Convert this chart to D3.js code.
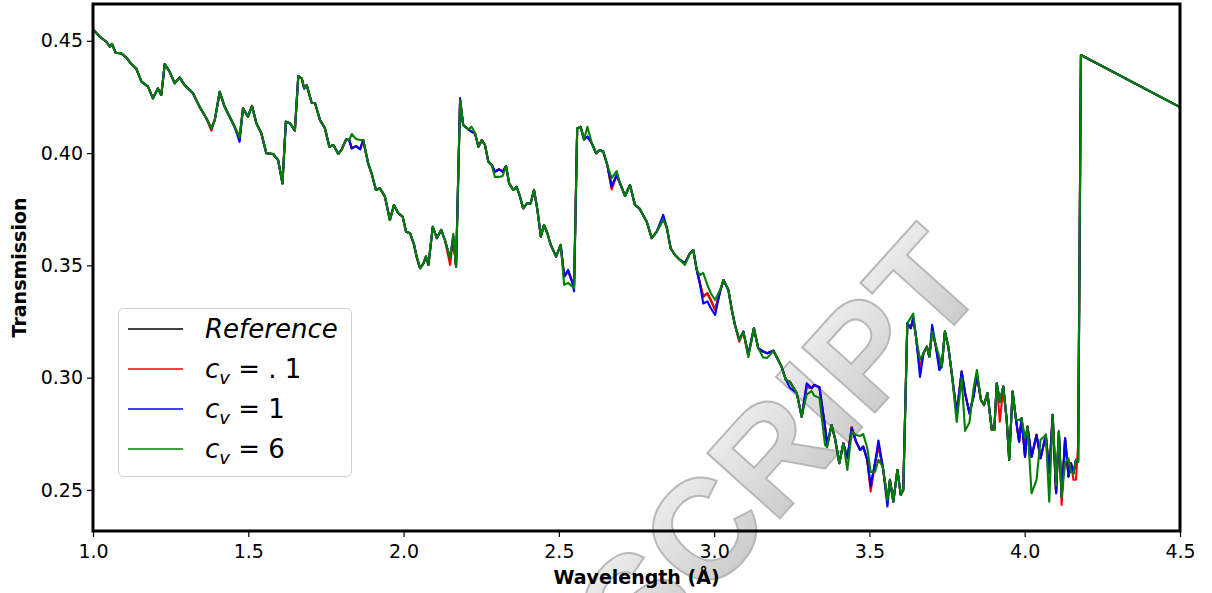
<!doctype html>
<html>
<head>
<meta charset="utf-8">
<title>Transmission</title>
<script src="https://d3js.org/d3.v7.min.js"></script>
<style>
  body { margin: 0; background: #fff; }
  svg { display: block; font-family: "DejaVu Sans", sans-serif; }
</style>
</head>
<body>
<svg width="1212" height="593"></svg>
<script>
// wavelength grid (Å) and the reference transmission
var wavelength = [1.000,1.022,1.043,1.054,1.061,1.073,1.091,1.107,1.123,1.139,1.156,1.177,1.193,1.209,1.220,1.231,1.247,1.263,1.279,1.295,
  1.322,1.344,1.365,1.381,1.392,1.408,1.424,1.440,1.456,1.472,1.483,1.499,1.512,1.526,1.542,1.558,1.580,1.596,1.610,1.621,
  1.634,1.650,1.661,1.672,1.680,1.688,1.704,1.715,1.731,1.747,1.761,1.774,1.790,1.801,1.815,1.825,1.833,1.847,1.860,1.870,
  1.886,1.897,1.911,1.924,1.940,1.956,1.969,1.983,1.997,2.008,2.021,2.034,2.042,2.053,2.064,2.072,2.080,2.094,2.107,2.121,
  2.133,2.150,2.160,2.169,2.182,2.192,2.208,2.219,2.230,2.241,2.252,2.262,2.273,2.284,2.294,2.308,2.319,2.330,2.340,2.353,
  2.364,2.375,2.385,2.398,2.409,2.420,2.431,2.442,2.452,2.463,2.474,2.491,2.506,2.517,2.530,2.541,2.549,2.559,2.570,2.581,
  2.592,2.606,2.620,2.632,2.643,2.656,2.670,2.686,2.699,2.713,2.729,2.745,2.759,2.783,2.799,2.815,2.836,2.847,2.860,2.874,
  2.890,2.906,2.922,2.933,2.944,2.954,2.965,2.978,2.989,3.003,3.019,3.030,3.046,3.057,3.067,3.081,3.094,3.110,3.128,3.142,
  3.158,3.171,3.191,3.201,3.217,3.231,3.244,3.266,3.282,3.298,3.314,3.322,3.339,3.357,3.364,3.378,3.389,3.403,3.416,3.429,
  3.443,3.457,3.470,3.480,3.493,3.504,3.518,3.529,3.543,3.558,3.566,3.577,3.590,3.601,3.609,3.622,3.633,3.641,3.650,3.663,
  3.674,3.685,3.693,3.702,3.712,3.725,3.733,3.743,3.754,3.765,3.781,3.797,3.808,3.822,3.835,3.846,3.859,3.869,3.880,3.894,
  3.902,3.910,3.920,3.931,3.942,3.950,3.961,3.972,3.982,3.990,4.001,4.009,4.022,4.038,4.051,4.068,4.079,4.090,4.101,4.110,
  4.119,4.130,4.141,4.149,4.157,4.165,4.172,4.181,4.500];

var reference = [0.4551,0.4518,0.4496,0.4474,0.4486,0.4447,0.4444,0.4426,0.4397,0.4377,0.4318,0.4296,0.4244,0.4288,0.4259,0.4397,0.4362,0.4311,0.4337,0.4303,
  0.4266,0.4204,0.4155,0.4110,0.4147,0.4273,0.4206,0.4162,0.4117,0.4070,0.4199,0.4162,0.4210,0.4133,0.4088,0.3999,0.3996,0.3969,0.3865,0.4140,
  0.4133,0.4100,0.4343,0.4333,0.4288,0.4303,0.4224,0.4222,0.4147,0.4110,0.4028,0.4036,0.3996,0.4017,0.4061,0.4058,0.4021,0.4031,0.4017,0.4058,
  0.3954,0.3910,0.3836,0.3843,0.3806,0.3702,0.3769,0.3732,0.3717,0.3650,0.3643,0.3591,0.3539,0.3487,0.3509,0.3539,0.3502,0.3672,0.3621,0.3658,
  0.3613,0.3532,0.3628,0.3494,0.4236,0.4125,0.4106,0.4095,0.4088,0.4028,0.4058,0.4036,0.3962,0.3947,0.3917,0.3928,0.3917,0.3942,0.3865,0.3836,
  0.3850,0.3806,0.3754,0.3776,0.3776,0.3836,0.3747,0.3628,0.3680,0.3643,0.3591,0.3539,0.3591,0.3450,0.3472,0.3435,0.3412,0.4110,0.4117,0.4061,
  0.4073,0.4044,0.3999,0.4014,0.4006,0.3947,0.3850,0.3902,0.3858,0.3809,0.3858,0.3769,0.3754,0.3694,0.3621,0.3650,0.3705,0.3672,0.3576,0.3546,
  0.3524,0.3509,0.3554,0.3568,0.3479,0.3420,0.3361,0.3376,0.3346,0.3301,0.3383,0.3435,0.3390,0.3301,0.3235,0.3168,0.3205,0.3101,0.3220,0.3131,
  0.3116,0.3109,0.3120,0.3093,0.3049,0.2990,0.2982,0.2931,0.2826,0.2960,0.2953,0.2967,0.2957,0.2782,0.2700,0.2789,0.2730,0.2619,0.2708,0.2641,
  0.2775,0.2715,0.2678,0.2693,0.2634,0.2515,0.2619,0.2693,0.2604,0.2455,0.2545,0.2448,0.2589,0.2478,0.2500,0.3242,0.3220,0.3264,0.3182,0.3034,
  0.3109,0.3138,0.3093,0.3205,0.3153,0.3057,0.3049,0.3205,0.3138,0.3020,0.2841,0.3027,0.2931,0.2841,0.2915,0.3012,0.2901,0.2878,0.2931,0.2767,
  0.2767,0.2975,0.2893,0.2960,0.2812,0.2634,0.2938,0.2812,0.2715,0.2819,0.2648,0.2782,0.2648,0.2745,0.2641,0.2745,0.2574,0.2834,0.2485,0.2760,
  0.2469,0.2730,0.2559,0.2619,0.2574,0.2634,0.2625,0.4437,0.4205];

// the three runs differ from the reference only in a few places: [wavelength, transmission]
var cv01Changes = [[1.381,0.4100],[2.150,0.3502],[2.670,0.3838],[3.081,0.3160],[3.443,0.2780],[3.504,0.2493],
  [3.920,0.2804],[4.119,0.2433],[4.157,0.2545],[4.165,0.2545],[4.172,0.2700]];
var cv1Changes = [[1.472,0.4050],[2.182,0.4245],[2.530,0.3480],[2.549,0.3385],[2.836,0.3725],[2.965,0.3330],
  [2.978,0.3340],[2.989,0.3310],[3.003,0.3279],[3.244,0.2955],[3.298,0.2975],[3.529,0.2720],[3.558,0.2426],
  [3.663,0.3003],[3.702,0.3235],[3.725,0.3034]];
var cv6Changes = [[1.833,0.4085],[1.847,0.4063],[1.860,0.4058],[2.160,0.3640],[2.219,0.4117],[2.294,0.3894],
  [2.308,0.3894],[2.319,0.3898],[2.517,0.3413],[2.530,0.3422],[2.541,0.3408],[2.549,0.3400],[2.592,0.4117],
  [2.670,0.3889],[2.686,0.3920],[2.906,0.3502],[2.954,0.3457],[2.965,0.3466],[2.978,0.3413],[2.989,0.3377],
  [3.003,0.3346],[3.019,0.3390],[3.110,0.3092],[3.158,0.3090],[3.171,0.3088],[3.298,0.2925],[3.314,0.2940],
  [3.322,0.2920],[3.339,0.2910],[3.357,0.2700],[3.364,0.2690],[3.429,0.2589],[3.443,0.2760],[3.457,0.2745],
  [3.470,0.2740],[3.480,0.2749],[3.493,0.2687],[3.504,0.2580],[3.518,0.2580],[3.529,0.2634],[3.633,0.3266],
  [3.641,0.3285],[3.663,0.3079],[3.725,0.3093],[3.781,0.2803],[3.797,0.3000],[3.808,0.2763],[3.822,0.2800],
  [3.835,0.2950],[3.846,0.3034],[3.982,0.2812],[4.001,0.2730],[4.022,0.2485],[4.038,0.2545],[4.051,0.2723],
  [4.079,0.2448],[4.090,0.2834],[4.101,0.2520],[4.119,0.2469],[4.130,0.2619],[4.141,0.2640],[4.149,0.2580]];

var xTicks = [1.0, 1.5, 2.0, 2.5, 3.0, 3.5, 4.0, 4.5];
var yTicks = [0.25, 0.30, 0.35, 0.40, 0.45];

function buildSeries(changes) {
  var lookup = new Map(changes.map(function (c) { return [c[0].toFixed(3), c[1]]; }));
  return wavelength.map(function (w, i) {
    var k = w.toFixed(3);
    return [w, lookup.has(k) ? lookup.get(k) : reference[i]];
  });
}

var series = [
  { name: "ref", color: "black", data: buildSeries([]) },
  { name: "cv01", color: "red", data: buildSeries(cv01Changes) },
  { name: "cv1", color: "blue", data: buildSeries(cv1Changes) },
  { name: "cv6", color: "green", data: buildSeries(cv6Changes) }
];

var svg = d3.select("svg");
var plotLeft = 93, plotRight = 1180, plotTop = 4, plotBottom = 531;

var x = d3.scaleLinear().domain([1, 4.5]).range([plotLeft, plotRight]);
var y = d3.scaleLinear().domain([0.2317, 0.4664]).range([plotBottom, plotTop]);

var defs = svg.append("defs");
var grad = defs.append("linearGradient").attr("id", "wmfill")
  .attr("x1", "0").attr("y1", "0").attr("x2", "0").attr("y2", "1");
grad.append("stop").attr("offset", "0").attr("stop-color", "#f4f4f4");
grad.append("stop").attr("offset", "1").attr("stop-color", "#c4c4c4");

// watermark sits behind everything
svg.append("text")
  .attr("transform", "translate(990,285) rotate(-48)")
  .attr("text-anchor", "end")
  .attr("font-family", "Liberation Sans, sans-serif")
  .attr("font-weight", "bold")
  .attr("font-size", 142)
  .attr("fill", "url(#wmfill)")
  .attr("stroke", "#b8b8b8")
  .attr("stroke-width", 2)
  .text("MANUSCRIPT");

defs.append("clipPath").attr("id", "plot")
  .append("rect").attr("x", plotLeft).attr("y", plotTop)
  .attr("width", plotRight - plotLeft).attr("height", plotBottom - plotTop);

var line = d3.line().x(function (d) { return x(d[0]); }).y(function (d) { return y(d[1]); });

svg.append("g").attr("clip-path", "url(#plot)")
  .selectAll("path")
  .data(series)
  .enter()
    .append("path")
    .attr("d", function (d) { return line(d.data); })
    .attr("fill", "none")
    .attr("stroke", function (d) { return d.color; })
    .attr("stroke-width", 2.1)
    .attr("stroke-linejoin", "round");

// axes
var xAxis = d3.axisBottom(x).tickValues(xTicks).tickFormat(d3.format(".1f")).tickSize(6).tickSizeOuter(0);
var yAxis = d3.axisLeft(y).tickValues(yTicks).tickFormat(d3.format(".2f")).tickSize(6).tickSizeOuter(0);

var gx = svg.append("g").attr("transform", "translate(0," + plotBottom + ")").call(xAxis);
var gy = svg.append("g").attr("transform", "translate(" + plotLeft + ",0)").call(yAxis);
[gx, gy].forEach(function (g) {
  g.select(".domain").remove();
  g.selectAll(".tick line").attr("stroke", "black").attr("stroke-width", 1.2);
  g.selectAll(".tick text").attr("font-family", "DejaVu Sans").attr("font-size", 19).attr("fill", "black");
});
gx.selectAll(".tick text").attr("dy", "0.95em");
gy.selectAll(".tick text").attr("x", -10);

// frame
svg.append("rect")
  .attr("x", plotLeft).attr("y", plotTop)
  .attr("width", plotRight - plotLeft).attr("height", plotBottom - plotTop)
  .attr("fill", "none").attr("stroke", "black").attr("stroke-width", 3);

svg.append("text")
  .attr("x", (plotLeft + plotRight) / 2).attr("y", 584)
  .attr("text-anchor", "middle")
  .attr("font-weight", "bold").attr("font-size", 19)
  .text("Wavelength (Å)");

svg.append("text")
  .attr("transform", "translate(26," + (plotTop + plotBottom) / 2 + ") rotate(-90)")
  .attr("text-anchor", "middle")
  .attr("font-weight", "bold").attr("font-size", 19)
  .text("Transmission");

// legend
var legendItems = [
  { color: "black", label: "Reference" },
  { color: "red", label: ".1" },
  { color: "blue", label: "1" },
  { color: "green", label: "6" }
];

var legend = svg.append("g");
legend.append("rect")
  .attr("x", 118.5).attr("y", 308.5).attr("width", 233).attr("height", 168).attr("rx", 5)
  .attr("fill", "white").attr("fill-opacity", 0.8)
  .attr("stroke", "#d0d0d0").attr("stroke-width", 1);

var rows = legend.selectAll("g.row")
  .data(legendItems)
  .enter()
    .append("g")
    .attr("transform", function (d, i) { return "translate(0," + (329 + i * 40) + ")"; });

rows.append("line")
  .attr("x1", 128).attr("x2", 183)
  .attr("stroke", function (d) { return d.color; })
  .attr("stroke-width", 1.5);

rows.each(function (d, i) {
  var t = d3.select(this).append("text")
    .attr("x", 205).attr("y", 9)
    .attr("font-size", 26);
  if (i === 0) {
    t.attr("font-style", "italic").text(d.label);
  } else {
    t.append("tspan").attr("font-style", "italic").text("c");
    t.append("tspan").attr("font-style", "italic").attr("font-size", 18).attr("dy", 6).text("v");
    t.append("tspan").attr("dy", -6).text(d.label === ".1" ? " = . 1" : " = " + d.label);
  }
});
</script>
</body>
</html>
